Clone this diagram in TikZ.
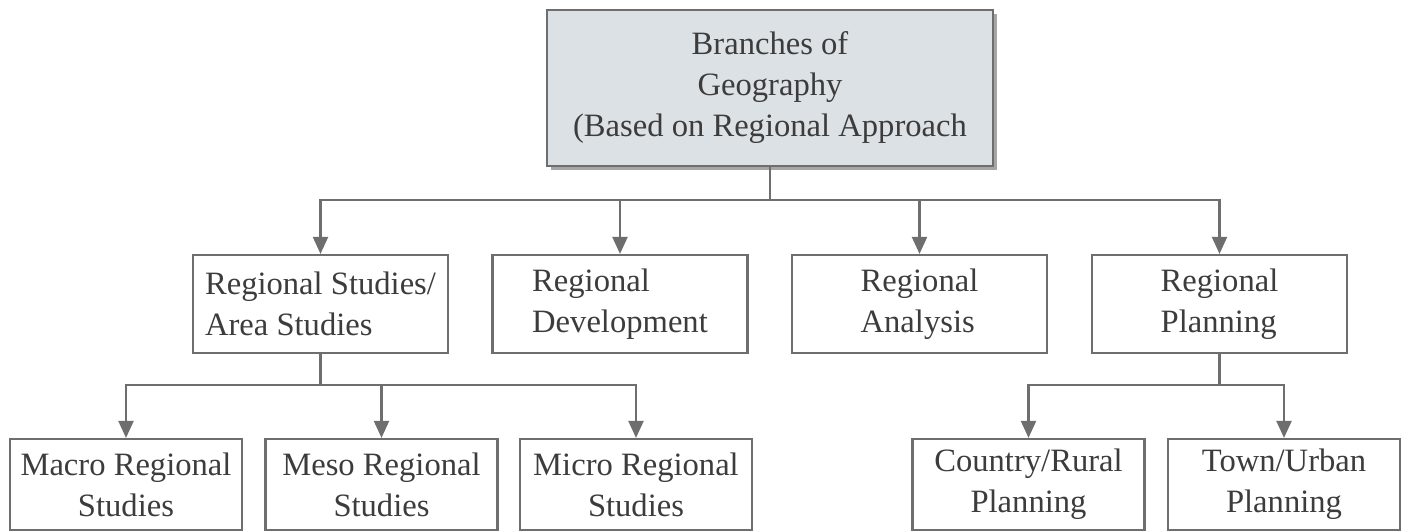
\documentclass[tikz,border=0pt]{standalone}
\usepackage{fontspec}
\setmainfont{Liberation Serif}
\usetikzlibrary{arrows.meta,shadows}
\definecolor{linegray}{HTML}{6E6E6E}
\definecolor{textgray}{HTML}{3C3C3C}
\definecolor{topfill}{HTML}{DCE1E5}
\tikzset{
  box/.style={draw=linegray, line width=1.1pt, minimum width=127.5pt, minimum height=49pt,
    inner sep=0pt, text=textgray, font=\fontsize{16.3}{20.5}\selectfont, align=left},
  leaf/.style={box, minimum width=116pt, minimum height=45.5pt, align=center},
  link/.style={draw=linegray, line width=1.1pt},
  arr/.style={link, -{Triangle[width=7.5pt,length=8.5pt]}}
}
\begin{document}
\begin{tikzpicture}[x=0.5pt,y=-0.5pt]
      \useasboundingbox (0,0) rectangle (1409,531);
      \node[box, fill=topfill, minimum width=223pt, minimum height=78pt, align=center,
        drop shadow={shadow xshift=2pt, shadow yshift=-2pt, fill=gray!70, opacity=1}]
        (top) at (770,88) {Branches of\\Geography\\(Based on Regional Approach};
      \node[box] (rs) at (320.5,304) {Regional Studies/\\Area Studies};
      \node[box] (rd) at (620,304) {Regional\\Development};
      \node[box] (ra) at (919.5,304) {Regional\\Analysis};
      \node[box] (rp) at (1219.5,304) {Regional\\Planning};
      \node[leaf] (macro) at (126,484.5) {Macro Regional\\Studies};
      \node[leaf] (meso) at (381.5,484.5) {Meso Regional\\Studies};
      \node[leaf] (micro) at (636,484.5) {Micro Regional\\Studies};
      \node[leaf] (rural) at (1028.5,484.5) {Country/Rural\\Planning};
      \node[leaf] (urban) at (1284,484.5) {Town/Urban\\Planning};
      \coordinate (bus1) at (770,200);
      \coordinate (bus2) at (320.5,385);
      \coordinate (bus3) at (1219.5,385);
      \begin{scope}
        \draw[link] (top) -- (bus1);
        \draw[arr] (bus1) -| (rs);
        \draw[arr] (bus1) -| (rd);
        \draw[arr] (bus1) -| (ra);
        \draw[arr] (bus1) -| (rp);
        \draw[link] (rs) -- (bus2);
        \draw[arr] (bus2) -| (macro);
        \draw[arr] (bus2) -| (meso);
        \draw[arr] (bus2) -| (micro);
        \draw[link] (rp) -- (bus3);
        \draw[arr] (bus3) -| (rural);
        \draw[arr] (bus3) -| (urban);
      \end{scope}
    \end{tikzpicture}
\end{document}
